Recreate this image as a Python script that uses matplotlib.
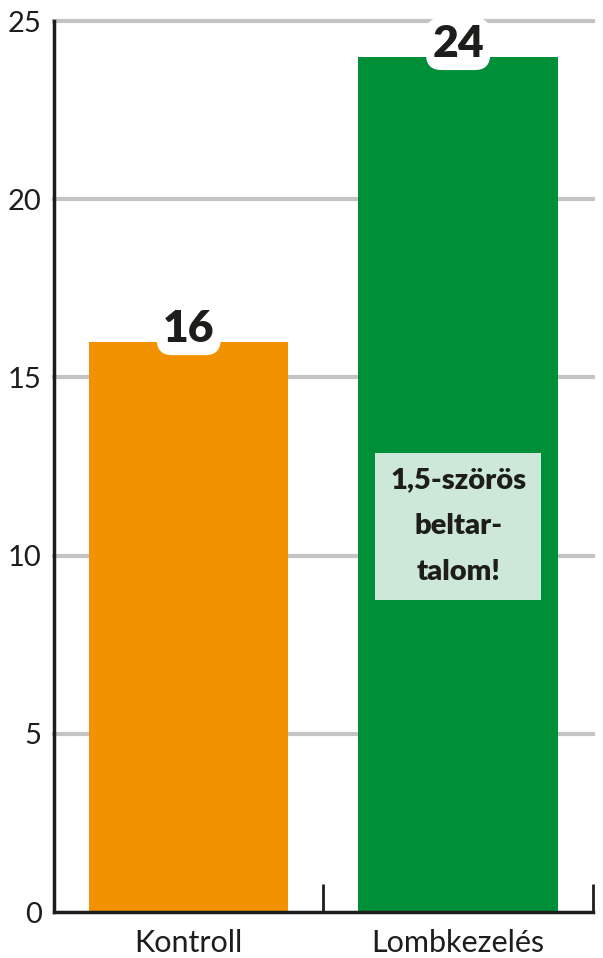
import matplotlib
matplotlib.use("Agg")
import matplotlib.pyplot as plt

categories = ["Kontroll", "Lombkezelés"]
values = [16, 24]
bar_colors = ["#F39200", "#008F39"]
yticks = [0, 5, 10, 15, 20, 25]
note_text = "1,5-szörös\nbeltar-\ntalom!"

plt.rcParams['font.family'] = ['Lato', 'DejaVu Sans']

fig = plt.figure(figsize=(6.03, 9.58), dpi=100)
ax = fig.add_axes([0.0896, 0.048, 0.8935, 0.930])

ax.set_xlim(-0.5, 1.5)
ax.set_ylim(0, 25)

for yv in yticks[1:]:
    ax.axhline(yv, color="#c4c4c4", lw=3, zorder=0, clip_on=False)

ax.bar(range(len(categories)), values, width=0.74, color=bar_colors, zorder=2)

for i, v in enumerate(values):
    ax.text(i, v - 0.2, str(v), ha="center", va="bottom", fontsize=32,
            fontweight="heavy", color="#1d1d1b", zorder=4,
            bbox=dict(boxstyle="round,pad=0.14,rounding_size=0.35", fc="white", ec="none"))

ax.text(1, 10.83, note_text, ha="center", va="center", fontsize=21,
        fontweight="heavy", color="#1d1d1b", linespacing=1.95, zorder=4,
        bbox=dict(boxstyle="square,pad=0.5", fc="#cde8d8", ec="none"))

ax.set_yticks(yticks)
ax.set_yticklabels([str(t) for t in yticks], fontsize=21, color="#1d1d1b",
                   fontweight="normal")
ax.tick_params(axis="y", length=0, pad=9)

ax.set_xticks([0, 1])
ax.set_xticklabels(categories, fontsize=22, color="#1d1d1b", fontweight="normal")
ax.tick_params(axis="x", length=0, pad=12)
ax.set_xticks([0.5, 1.5], minor=True)
ax.tick_params(axis="x", which="minor", direction="in", length=20, width=2, color="#1d1d1b")

for s in ["top", "right"]:
    ax.spines[s].set_visible(False)
for s in ["left", "bottom"]:
    ax.spines[s].set_linewidth(2.5)
    ax.spines[s].set_color("#1d1d1b")
    ax.spines[s].set_zorder(5)

fig.savefig("out.png", dpi=100)
